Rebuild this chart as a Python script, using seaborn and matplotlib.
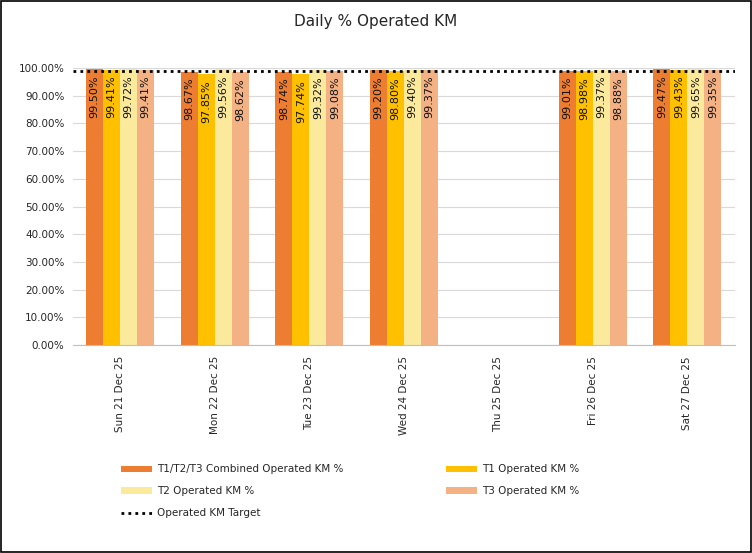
import pandas as pd
import matplotlib.pyplot as plt
import seaborn as sns
import numpy as np
from matplotlib.patches import Patch
from matplotlib.lines import Line2D
from matplotlib.ticker import FuncFormatter, FixedLocator

# Données
jours = ["Sun 21 Dec 25", "Mon 22 Dec 25", "Tue 23 Dec 25", "Wed 24 Dec 25",
         "Thu 25 Dec 25", "Fri 26 Dec 25", "Sat 27 Dec 25"]
combine = [99.50, 98.67, 98.74, 99.20, np.nan, 99.01, 99.47]
t1 = [99.41, 97.85, 97.74, 98.80, np.nan, 98.98, 99.43]
t2 = [99.72, 99.56, 99.32, 99.40, np.nan, 99.37, 99.65]
t3 = [99.41, 98.62, 99.08, 99.37, np.nan, 98.88, 99.35]
cible = 99.0

series = ["T1/T2/T3 Combined Operated KM %", "T1 Operated KM %",
          "T2 Operated KM %", "T3 Operated KM %"]
couleurs = ["#ED7D31", "#FFC000", "#FBE99C", "#F4B183"]

df = pd.DataFrame({
    "Jour": jours * 4,
    "Serie": np.repeat(series, len(jours)),
    "Valeur": combine + t1 + t2 + t3,
})

sns.set_style("white")
plt.rcParams['font.family'] = ['DejaVu Sans']

fig = plt.figure(figsize=(7.52, 5.53), dpi=100)
ax = fig.add_axes([0.097, 0.376, 0.88, 0.501])

sns.barplot(data=df.dropna(), x="Jour", y="Valeur", hue="Serie", order=jours,
            hue_order=series, palette=couleurs, width=0.72, ax=ax,
            errorbar=None, saturation=1, legend=False, linewidth=0)

# Étiquettes de données
for cont in ax.containers:
    for rect in cont:
        h = rect.get_height()
        if np.isnan(h) or h == 0:
            continue
        ax.text(rect.get_x() + rect.get_width() / 2, h - 2.2, f"{h:.2f}%",
                rotation=90, ha="center", va="top", fontsize=8, color="#111111")

# Ligne cible
ax.plot([-0.5, len(jours) - 0.5], [cible, cible], color="black",
        linestyle=(0, (1, 1.5)), linewidth=2, zorder=5)

ax.set_xlim(-0.5, len(jours) - 0.5)
ax.set_ylim(0, 100)
ax.set_yticks(np.arange(0, 101, 10))
ax.yaxis.set_major_formatter(FuncFormatter(lambda v, p: f"{v:.2f}%"))
ax.yaxis.grid(True, color="#D9D9D9", linewidth=0.8)
ax.set_axisbelow(True)
ax.tick_params(axis="y", length=0, labelsize=7.5, pad=6)
ax.tick_params(axis="x", which="major", length=0, labelsize=7.5, pad=8)
ax.set_xticks(range(len(jours)))
ax.set_xticklabels(jours, rotation=90)
ax.xaxis.set_minor_locator(FixedLocator(np.arange(-0.5, len(jours), 1)))
ax.tick_params(axis="x", which="minor", length=5, color="#BFBFBF", width=0.8)
for s in ["top", "right", "left"]:
    ax.spines[s].set_visible(False)
ax.spines["bottom"].set_color("#BFBFBF")
ax.set_xlabel("")
ax.set_ylabel("")

fig.suptitle("Daily % Operated KM", y=0.975, fontsize=11)

# Légende
poignees = [Patch(facecolor=c, edgecolor="none") for c in couleurs]
poignees.append(Line2D([], [], color="black", linestyle=(0, (1, 1.5)), linewidth=2))
etiquettes = series + ["Operated KM Target"]
fig.legend([poignees[i] for i in [0, 2, 4]], [etiquettes[i] for i in [0, 2, 4]],
           loc="upper left", bbox_to_anchor=(0.148, 0.177), frameon=False,
           fontsize=7.5, handlelength=3, handleheight=0.6, labelspacing=1.15,
           handletextpad=0.5)
fig.legend([poignees[i] for i in [1, 3]], [etiquettes[i] for i in [1, 3]],
           loc="upper left", bbox_to_anchor=(0.580, 0.177), frameon=False,
           fontsize=7.5, handlelength=3, handleheight=0.6, labelspacing=1.15,
           handletextpad=0.5)

fig.patches.append(plt.Rectangle((0.001, 0.001), 0.998, 0.998, transform=fig.transFigure,
                                 fill=False, edgecolor="black", linewidth=1.2))

fig.savefig("out.png", dpi=100)
